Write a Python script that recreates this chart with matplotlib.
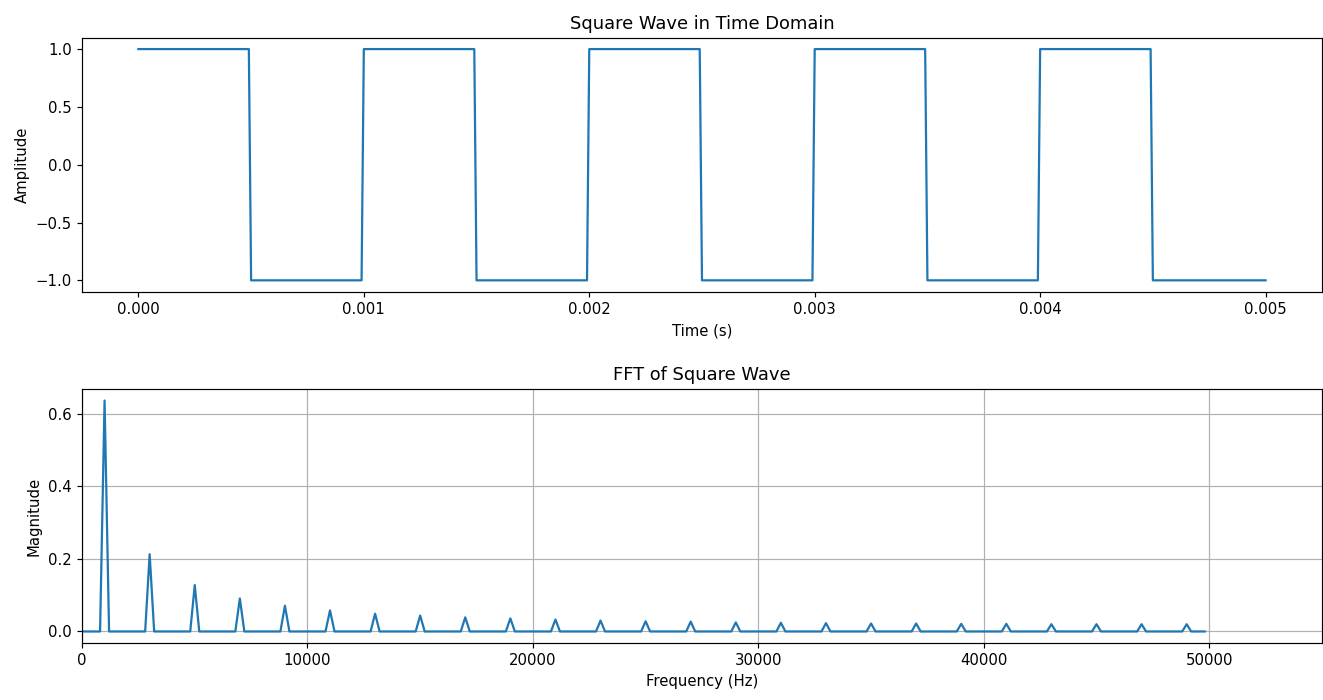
import numpy as np
import matplotlib
matplotlib.use('Agg')
import matplotlib.pyplot as plt

# square wave: level held over each half period (seconds)
edges = [0.0, 0.0005, 0.001, 0.0015, 0.002, 0.0025, 0.003, 0.0035, 0.004, 0.0045, 0.005]
levels = [1, -1, 1, -1, 1, -1, 1, -1, 1, -1]
dt = 1e-5  # sample spacing

# spectrum: odd harmonic peaks
peak_freqs = [1000, 3000, 5000, 7000, 9000, 11000, 13000, 15000, 17000, 19000,
              21000, 23000, 25000, 27000, 29000, 31000, 33000, 35000, 37000, 39000,
              41000, 43000, 45000, 47000, 49000]
peak_mags = [0.637, 0.213, 0.128, 0.091, 0.071, 0.058, 0.049, 0.044, 0.039, 0.036,
             0.033, 0.030, 0.028, 0.027, 0.025, 0.024, 0.023, 0.022, 0.022, 0.021,
             0.021, 0.020, 0.020, 0.020, 0.020]
df = 200         # frequency bin width
f_last = 49800   # last bin drawn

# build the time trace
t = []
x = []
for i, lv in enumerate(levels):
    t += [edges[i], edges[i + 1] - dt]
    x += [lv, lv]
t[-1] = edges[-1]

# build the spectrum trace
f = [0]
m = [0]
for pf, pm in zip(peak_freqs, peak_mags):
    f += [pf - df, pf, pf + df]
    m += [0, pm, 0]
f.append(f_last)
m.append(0)

fig = plt.figure(figsize=(1323 / 107, 700 / 107), dpi=107)

ax1 = fig.add_axes([0.062, 0.583, 0.9372, 0.3634])
ax1.plot(t, x)
ax1.set_title('Square Wave in Time Domain')
ax1.set_xlabel('Time (s)')
ax1.set_ylabel('Amplitude')

ax2 = fig.add_axes([0.062, 0.0814, 0.9372, 0.3629])
ax2.plot(f, m)
ax2.set_title('FFT of Square Wave')
ax2.set_xlabel('Frequency (Hz)')
ax2.set_ylabel('Magnitude')
ax2.set_xlim(0, 55000)
ax2.yaxis.set_major_locator(plt.MultipleLocator(0.2))
ax2.grid()

fig.savefig('out.png', dpi=107)
